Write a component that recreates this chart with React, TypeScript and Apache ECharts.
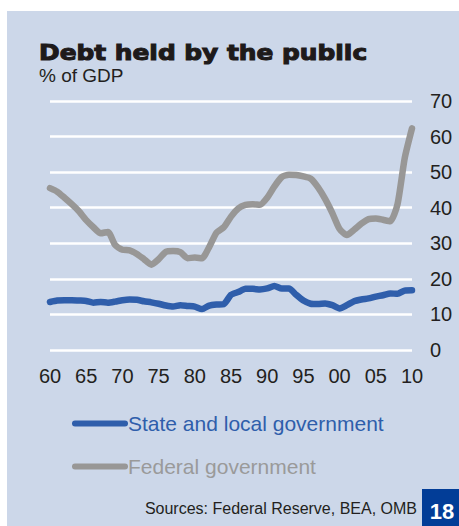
import React, { useEffect, useRef } from "react";
import * as echarts from "echarts";

// Years 1960–2010
const years: number[] = [
  1960, 1961, 1962, 1963, 1964, 1965, 1966, 1967, 1968, 1969,
  1970, 1971, 1972, 1973, 1974, 1975, 1976, 1977, 1978, 1979,
  1980, 1981, 1982, 1983, 1984, 1985, 1986, 1987, 1988, 1989,
  1990, 1991, 1992, 1993, 1994, 1995, 1996, 1997, 1998, 1999,
  2000, 2001, 2002, 2003, 2004, 2005, 2006, 2007, 2008, 2009, 2010,
];

// Debt held by the public, % of GDP
const stateLocal: number[] = [
  13.5, 13.9, 14.0, 14.0, 13.9, 13.8, 13.3, 13.5, 13.3, 13.6,
  14.0, 14.2, 14.1, 13.7, 13.4, 13.0, 12.5, 12.2, 12.6, 12.4,
  12.2, 11.5, 12.5, 12.8, 12.9, 15.5, 16.3, 17.2, 17.2, 17.0,
  17.3, 18.0, 17.3, 17.3, 15.5, 13.9, 13.0, 12.9, 13.1, 12.6,
  11.7, 12.6, 13.7, 14.2, 14.5, 15.0, 15.4, 15.9, 15.8, 16.7, 16.8,
];

const federal: number[] = [
  45.5, 44.5, 42.8, 41.0, 39.0, 36.5, 34.5, 32.8, 33.2, 29.5,
  28.2, 28.0, 27.0, 25.5, 24.0, 25.5, 27.6, 27.8, 27.5, 25.8,
  26.0, 25.8, 29.0, 33.0, 34.5, 37.5, 39.8, 40.8, 41.0, 40.8,
  42.8, 46.0, 48.6, 49.3, 49.2, 48.8, 48.2, 45.8, 42.5, 38.5,
  34.0, 32.3, 33.8, 35.5, 36.8, 37.0, 36.6, 36.2, 41.0, 54.0, 62.3,
];

const yTicks = { min: 0, max: 70, interval: 10 };
const xTicks = { min: 1960, max: 2010, interval: 5 };

const seriesNames = ["State and local government", "Federal government"];

const BG = "#CCD7E9";
const BLUE = "#2F5EAB";
const GRAY = "#989796";
const INK = "#231F20";
const FONT = "'Liberation Sans', Arial, Helvetica, sans-serif";

// capsule-shaped legend key
const CAPSULE = "path://M3,0 H53 A3,3 0 0 1 53,6 H3 A3,3 0 0 1 3,0 Z";

export default function App() {
  const ref = useRef<HTMLDivElement>(null);

  useEffect(() => {
    if (!ref.current) return;
    const chart = echarts.init(ref.current, undefined, { renderer: "svg" });

    const pairs = (vals: number[]) => years.map((y, i) => [y, vals[i]]);

    chart.setOption({
      animation: false,
      backgroundColor: "#ffffff",
      textStyle: { fontFamily: FONT },
      graphic: [
        {
          type: "rect",
          z: -10,
          silent: true,
          shape: { x: 7, y: 11, width: 452, height: 515 },
          style: { fill: BG },
        },
        {
          type: "text",
          x: 39,
          y: 63,
          scaleX: 1.13,
          style: {
            text: "Debt held by the public",
            fill: "#1E1A1A",
            stroke: "#1E1A1A",
            lineWidth: 1.1,
            font: "bold 22px 'DejaVu Sans', sans-serif",
            verticalAlign: "bottom",
          },
        },
        {
          type: "text",
          x: 39,
          y: 75,
          style: {
            text: "% of GDP",
            fill: INK,
            font: `19px ${FONT}`,
            verticalAlign: "middle",
          },
        },
        {
          type: "text",
          x: 417,
          y: 508,
          style: {
            text: "Sources: Federal Reserve, BEA, OMB",
            fill: INK,
            font: `16px ${FONT}`,
            align: "right",
            verticalAlign: "middle",
          },
        },
        {
          type: "rect",
          shape: { x: 422, y: 489, width: 37, height: 37 },
          style: { fill: "#023D97" },
        },
        {
          type: "text",
          x: 442,
          y: 511,
          style: {
            text: "18",
            fill: "#ffffff",
            font: `bold 22px ${FONT}`,
            align: "center",
            verticalAlign: "middle",
          },
        },
      ],
      legend: {
        orient: "vertical",
        left: 67,
        top: 408,
        itemWidth: 56,
        itemHeight: 7,
        itemGap: 22,
        icon: CAPSULE,
        selectedMode: false,
        textStyle: { fontSize: 21, fontFamily: FONT, padding: [0, 0, 0, -5] },
        data: [
          { name: seriesNames[0], textStyle: { color: BLUE } },
          { name: seriesNames[1], textStyle: { color: "#9A9A9A" } },
        ],
      },
      grid: { left: 50, right: 47, top: 101, bottom: 176 },
      xAxis: {
        type: "value",
        min: xTicks.min,
        max: xTicks.max,
        interval: xTicks.interval,
        axisLine: { show: false },
        axisTick: { show: false },
        splitLine: { show: false },
        axisLabel: {
          color: INK,
          fontSize: 20,
          margin: 16,
          formatter: (v: number) => String(v % 100).padStart(2, "0"),
        },
      },
      yAxis: {
        type: "value",
        position: "right",
        min: yTicks.min,
        max: yTicks.max,
        interval: yTicks.interval,
        axisLine: { show: false },
        axisTick: { show: false },
        splitLine: { lineStyle: { color: "#ffffff", width: 2.5 } },
        axisLabel: { color: INK, fontSize: 20, margin: 18 },
      },
      series: [
        {
          name: seriesNames[0],
          type: "line",
          data: pairs(stateLocal),
          showSymbol: false,
          symbol: "none",
          smooth: 0.2,
          color: BLUE,
          lineStyle: { color: BLUE, width: 6.5, cap: "round", join: "round" },
          z: 3,
        },
        {
          name: seriesNames[1],
          type: "line",
          data: pairs(federal),
          showSymbol: false,
          symbol: "none",
          smooth: 0.2,
          color: GRAY,
          lineStyle: { color: GRAY, width: 6.5, cap: "round", join: "round" },
          z: 2,
        },
      ],
    });

    return () => chart.dispose();
  }, []);

  return (
    <div
      ref={ref}
      style={{ position: "fixed", left: 0, top: 0, width: 459, height: 526 }}
    />
  );
}
